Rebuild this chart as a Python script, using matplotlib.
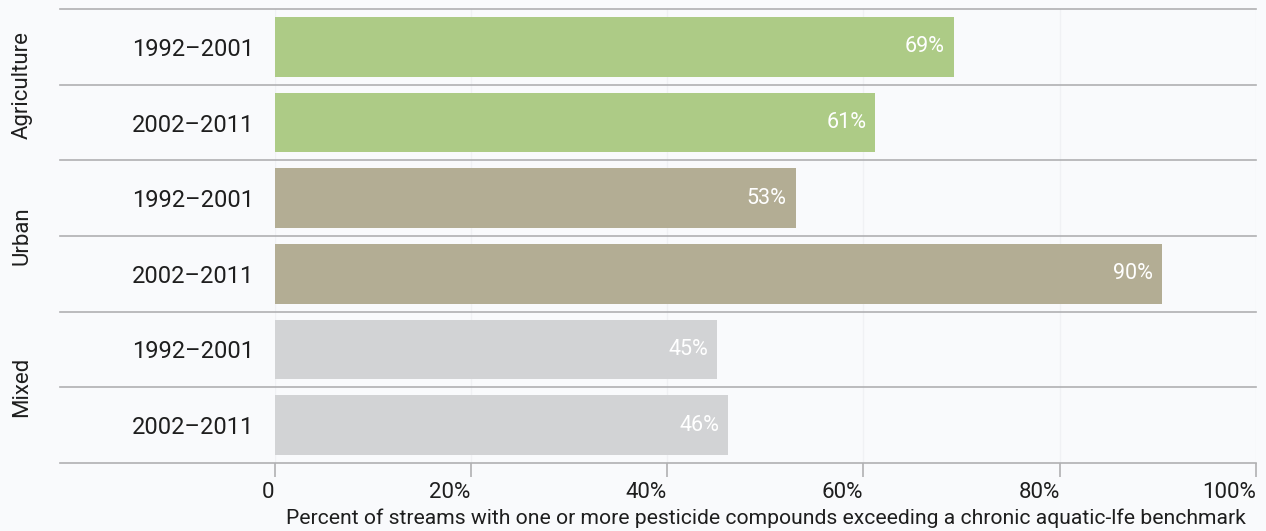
import numpy as np
import matplotlib
matplotlib.use("Agg")
import matplotlib.pyplot as plt
from matplotlib.transforms import blended_transform_factory

plt.rcParams["font.family"] = ["Roboto", "DejaVu Sans"]

# --- data ---
groups = ["Agriculture", "Urban", "Mixed"]
periods = ["1992\u20132001", "2002\u20132011"]
values = [69.2, 61.2, 53.1, 90.4, 45.1, 46.2]
group_colors = ["#adcb86", "#b3ad94", "#d2d3d5"]
xticks = [0, 20, 40, 60, 80, 100]
xtick_labels = ["0", "20%", "40%", "60%", "80%", "100%"]
xlabel = "Percent of streams with one or more pesticide compounds exceeding a chronic aquatic-lfe benchmark"

bg = "#f9fafc"
line_col = "#b0b0b2"
txt = "#1e1e1e"
W, H = 1266, 531

fig = plt.figure(figsize=(W / 100, H / 100), dpi=100, facecolor=bg)
ax = fig.add_axes([274.5 / W, (H - 463) / H, (1256 - 274.5) / W, (463 - 9) / H])
ax.set_facecolor(bg)

rows = np.arange(len(values))
colors = [group_colors[i // 2] for i in rows]
ax.barh(rows, values, height=0.79, color=colors, zorder=2)

for i, v in enumerate(values):
    ax.annotate(f"{v:.0f}%", (v, i), xytext=(-6.5, 0), textcoords="offset points",
                ha="right", va="center", color="white", fontsize=15.5, zorder=3)

ax.set_xlim(0, 100)
ax.set_ylim(len(values) - 0.5, -0.5)

# row separators, extended to the left over the label area
xmin = (60 - 274.5) / (1256 - 274.5)
for b in np.arange(-0.5, len(values), 1.0):
    ax.axhline(b, xmin=xmin, xmax=1, color=line_col, lw=1.2, clip_on=False, zorder=1)

# faint vertical grid
for t in xticks:
    ax.axvline(t, color="#f0f1f4", lw=1, zorder=0)

for s in ax.spines.values():
    s.set_visible(False)

ax.set_xticks(xticks)
ax.set_xticklabels(xtick_labels, fontsize=16, color=txt)
for lbl in ax.get_xticklabels():
    lbl.set_ha("right")
ax.tick_params(axis="x", length=10, color=line_col, width=1.2, pad=4)

ax.set_yticks(rows)
ax.set_yticklabels([periods[i % 2] for i in rows], fontsize=17, color=txt)
ax.tick_params(axis="y", length=0, pad=15)

trans = blended_transform_factory(fig.transFigure, ax.transData)
for g, name in enumerate(groups):
    ax.text(22 / W, 2 * g + 0.5, name, rotation=90, ha="center", va="center",
            fontsize=16, color=txt, transform=trans)

fig.text(1246 / W, 1 - 518 / H, xlabel, ha="right", va="center", fontsize=15.2,
         color=txt)

fig.savefig("out.png", dpi=100, facecolor=bg)
